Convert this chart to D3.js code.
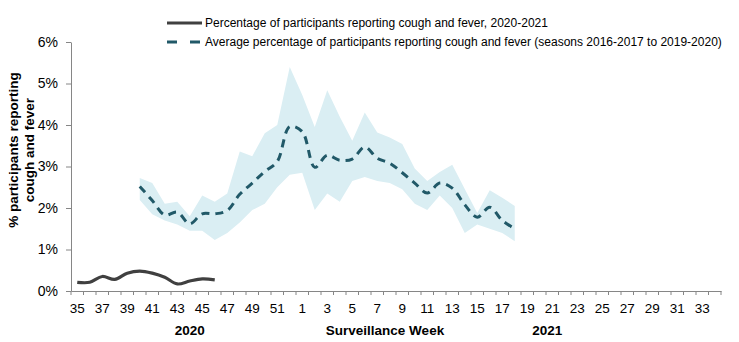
<!DOCTYPE html>
<html><head><meta charset="utf-8">
<script src="https://cdn.jsdelivr.net/npm/d3@7"></script>
<style>body{margin:0;background:#fff}svg{display:block;font-family:"Liberation Sans",Arial,sans-serif}</style>
</head><body><svg id="c" width="739" height="342"></svg>
<script>
const weeks = [35,36,37,38,39,40,41,42,43,44,45,46,47,48,49,50,51,52,1,2,3,4,5,6,7,8,9,10,11,12,13,14,15,16,17,18,19,20,21,22,23,24,25,26,27,28,29,30,31,32,33,34];
const currentWeeks = [35,36,37,38,39,40,41,42,43,44,45,46];
const currentValues = [0.21,0.21,0.35,0.28,0.43,0.48,0.43,0.33,0.17,0.24,0.29,0.27];
const avgWeeks = [40,41,42,43,44,45,46,47,48,49,50,51,52,1,2,3,4,5,6,7,8,9,10,11,12,13,14,15,16,17,18];
const avgValues = [2.52,2.18,1.83,1.9,1.62,1.86,1.86,1.94,2.33,2.6,2.88,3.12,3.96,3.84,2.98,3.27,3.15,3.18,3.47,3.2,3.08,2.85,2.6,2.36,2.6,2.48,2.08,1.78,2.02,1.7,1.5];
const upperValues = [2.72,2.6,2.1,2.15,1.8,2.3,2.15,2.35,3.36,3.25,3.8,4.0,5.4,4.72,3.95,4.84,4.2,3.62,4.3,3.82,3.7,3.54,2.95,2.65,2.87,3.04,2.46,1.88,2.43,2.25,2.05];
const lowerValues = [2.19,1.85,1.7,1.6,1.45,1.45,1.23,1.4,1.65,1.95,2.1,2.5,2.8,2.85,1.95,2.35,2.15,2.65,2.75,2.65,2.6,2.45,2.1,1.95,2.3,2.0,1.4,1.6,1.5,1.4,1.2];
const yTicks = [0,1,2,3,4,5,6];
const legendLabels = ["Percentage of participants reporting cough and fever, 2020-2021","Average percentage of participants reporting cough and fever (seasons 2016-2017 to 2019-2020)"];
const yTitle = ["% participants reporting","cough and fever"];
const xTitle = "Surveillance Week";
const yearLabels = [{label:"2020", week:44, dx:0},{label:"2021", week:21, dx:-5}];

const svg = d3.select("#c");
const mLeft = 71, mRight = 721, mTop = 42, mBottom = 291;
const x = d3.scaleBand().domain(weeks.map(String)).range([mLeft, mRight]).paddingInner(0).paddingOuter(0);
const y = d3.scaleLinear().domain([0,6]).range([mBottom, mTop]);
const cx = w => x(String(w)) + x.bandwidth()/2;
const axisColor = "#868686";

// band
const band = avgWeeks.map((w,i)=>({w, lo:lowerValues[i], hi:upperValues[i]}));
svg.append("path").datum(band)
  .attr("fill","#DAEEF3")
  .attr("d", d3.area().x(d=>cx(d.w)).y0(d=>y(d.lo)).y1(d=>y(d.hi)));

// average dashed line
svg.append("path").datum(avgWeeks.map((w,i)=>({w,v:avgValues[i]})))
  .attr("fill","none").attr("stroke","#215968").attr("stroke-width",3)
  .attr("stroke-dasharray","8,6")
  .attr("d", d3.line().x(d=>cx(d.w)).y(d=>y(d.v)).curve(d3.curveCatmullRom.alpha(0.5)));

// current line
svg.append("path").datum(currentWeeks.map((w,i)=>({w,v:currentValues[i]})))
  .attr("fill","none").attr("stroke","#404040").attr("stroke-width",3.2)
  .attr("d", d3.line().x(d=>cx(d.w)).y(d=>y(d.v)).curve(d3.curveCatmullRom.alpha(0.5)));

// y axis
const ya = svg.append("g").attr("transform",`translate(${mLeft},0)`)
  .call(d3.axisLeft(y).tickValues(yTicks).tickFormat(d=>d+"%").tickSize(5).tickSizeOuter(0));
ya.select(".domain").attr("stroke",axisColor);
ya.selectAll(".tick line").attr("stroke",axisColor);
ya.selectAll(".tick text").attr("font-size",14).attr("fill","#000").attr("x",-13).attr("font-family","Liberation Sans, Arial");

// x axis
const xa = svg.append("g").attr("transform",`translate(0,${mBottom})`)
  .call(d3.axisBottom(x).tickValues([]).tickSizeOuter(0));
xa.select(".domain").attr("stroke",axisColor);
const bounds = weeks.map(w=>x(String(w))).concat([mRight]);
xa.selectAll("line.tk").data(bounds).enter().append("line").attr("class","tk")
  .attr("x1",d=>d).attr("x2",d=>d).attr("y1",0).attr("y2",4).attr("stroke",axisColor);
xa.selectAll("text.lb").data(weeks.filter((w,i)=>i%2===0)).enter().append("text").attr("class","lb")
  .attr("x",d=>cx(d)).attr("y",22).attr("text-anchor","middle").attr("font-size",13.5).attr("fill","#000")
  .attr("font-family","Liberation Sans, Arial")
  .text(d=>d);

// x titles
svg.append("text").attr("x",385).attr("y",335).attr("text-anchor","middle").attr("font-size",13.5).attr("font-weight","bold").text(xTitle);
yearLabels.forEach(d=>{
  svg.append("text").attr("x",cx(d.week)+d.dx).attr("y",335).attr("text-anchor","middle").attr("font-size",13.5).attr("font-weight","bold").text(d.label);
});

// y title
const yt = svg.append("text").attr("transform","translate(0,150) rotate(-90)").attr("text-anchor","middle").attr("font-size",13.5).attr("font-weight","bold");
yt.append("tspan").attr("x",0).attr("y",18).text(yTitle[0]);
yt.append("tspan").attr("x",0).attr("y",34).text(yTitle[1]);

// legend
const lg = svg.append("g");
lg.append("line").attr("x1",167).attr("x2",202).attr("y1",23).attr("y2",23).attr("stroke","#404040").attr("stroke-width",3);
lg.append("line").attr("x1",167).attr("x2",202).attr("y1",42).attr("y2",42).attr("stroke","#215968").attr("stroke-width",3).attr("stroke-dasharray","10,13");
lg.selectAll("text").data(legendLabels).enter().append("text")
  .attr("x",205).attr("y",(d,i)=>27+i*19).attr("font-size",12).attr("fill","#000").text(d=>d);
</script></body></html>
